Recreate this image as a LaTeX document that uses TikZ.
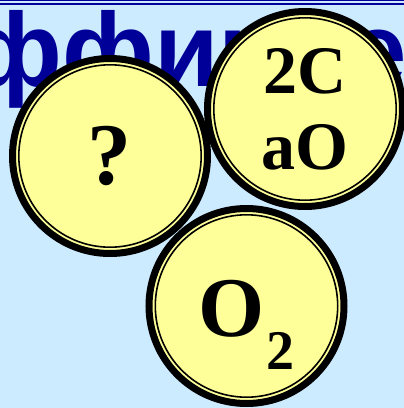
\documentclass[tikz,border=0pt]{standalone}
\usepackage{fontspec}
\setmainfont{Liberation Serif}
\newfontfamily\headfont{Liberation Sans}
\usepackage{xcolor}
\usetikzlibrary{positioning}
\definecolor{skyback}{RGB}{204,235,255}
\definecolor{headblue}{RGB}{0,0,153}
\definecolor{coinfill}{RGB}{255,255,153}

\begin{document}
\begin{tikzpicture}[
  x=1pt, y=1pt,
  coin/.style={circle, draw=black, fill=coinfill, line width=7pt, minimum size=195pt, inner sep=0pt,
    path picture={\draw[line width=1.6pt] (path picture bounding box.center) circle (91.2pt);}},
  rule/.style={draw=headblue},
  heading/.style={font=\headfont\bfseries\fontsize{105}{105}\selectfont, text=headblue, inner sep=0pt}
]

% Background
\useasboundingbox (0,0) rectangle (404,-408);
\clip (0,0) rectangle (404,-408);
\fill[skyback] (0,0) rectangle (404,-408);
\draw[rule, line width=1.3pt] (0,-0.6) -- (404,-0.6);
\draw[rule, line width=1.8pt] (0,-4.2) -- (404,-4.2);

% Heading
\node[heading, anchor=base west] (title) at (-29.5,-86) {\llap{Коэ}ффициенты};

% Coins
\node[coin, font=\bfseries\fontsize{88}{88}\selectfont] (ask) at (110,-156) {?};
\node[coin, align=center, font=\bfseries\fontsize{68}{76}\selectfont] (pair) at (305,-109) {2C\\aO};
\node[coin] (gas) at (246.5,-306) {};
\node[inner sep=0pt, font=\bfseries\fontsize{85}{85}\selectfont] (gasname) at ([yshift=-19pt]gas.center)
  {O\kern1pt\raisebox{-33pt}{\fontsize{56}{56}\selectfont 2}};

\end{tikzpicture}
\end{document}
